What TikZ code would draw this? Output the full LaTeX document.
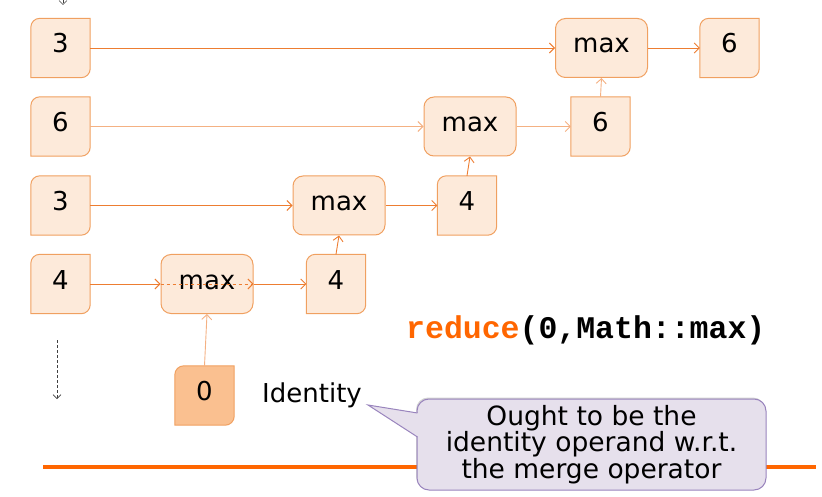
\documentclass[tikz,border=0pt]{standalone}
\usepackage{fontspec}
\setmainfont{DejaVu Sans}
\newfontfamily\codefont{Liberation Mono}
\usetikzlibrary{arrows.meta,shadows}
\pgfdeclarelayer{bg}
\pgfsetlayers{bg,main}
\definecolor{boxfill}{HTML}{FDEADA}
\definecolor{boxline}{HTML}{F0A060}
\definecolor{arr}{HTML}{ED7D31}
\definecolor{arrlight}{HTML}{F4B183}
\definecolor{zerofill}{HTML}{FAC090}
\definecolor{rulecol}{HTML}{FF6600}
\definecolor{callfill}{HTML}{E6E0EC}
\definecolor{callline}{HTML}{9984BD}
\tikzset{
  txt/.style={font=\fontsize{26}{26}\selectfont, text height=19pt, text depth=9pt, inner sep=0pt},
  valnode/.style={txt, minimum width=59pt, minimum height=59pt},
  maxnode/.style={txt, minimum width=92pt, minimum height=59pt, draw=boxline, line width=1pt, fill=boxfill, rounded corners=10pt},
  flow/.style={draw=arr, line width=0.9pt, -{Straight Barb[length=5pt,width=10pt,line width=0.9pt]}},
  flowlight/.style={flow, draw=arrlight},
  timeflow/.style={draw=black!75, line width=0.7pt, densely dashed, -{Straight Barb[length=4pt,width=8pt,line width=0.7pt]}},
}
% value box: rounded top-left (radius #3) and bottom-right corners
\newcommand\vframe[3]{%
  \draw[draw=boxline, fill=#2, line width=1pt]
    ([yshift=-#3]#1.north west) .. controls ([yshift=-0.45*#3]#1.north west) and ([xshift=0.45*#3]#1.north west) .. ([xshift=#3]#1.north west)
    -- (#1.north east) -- ([yshift=9pt]#1.south east)
    .. controls ([yshift=4pt]#1.south east) and ([xshift=-4pt]#1.south east) .. ([xshift=-9pt]#1.south east)
    -- (#1.south west) -- cycle;}
\begin{document}
\begin{tikzpicture}[x=1pt,y=-1pt]
\useasboundingbox (0,0) rectangle (822,497);
% value boxes
\node[valnode] (in1) at (60.5,48) {3};
\node[valnode] (in2) at (60.5,126.5) {6};
\node[valnode] (in3) at (60.5,205.5) {3};
\node[valnode] (in4) at (60.5,284) {4};
\node[valnode] (v1) at (729.5,48) {6};
\node[valnode] (v2) at (600.5,126.5) {6};
\node[valnode] (v3) at (467,205.5) {4};
\node[valnode] (v4) at (336,284) {4};
\node[valnode] (zero) at (204.5,395.5) {0};
\begin{pgfonlayer}{bg}
\foreach \n in {in1,in2,in3,in4,v1,v3,v4}{\vframe{\n}{boxfill}{9pt}}
\vframe{v2}{boxfill}{0.01pt}
\vframe{zero}{zerofill}{9pt}
\end{pgfonlayer}
% max boxes
\node[maxnode] (m1) at (601.5,48) {max};
\node[maxnode] (m2) at (470,126.5) {max};
\node[maxnode] (m3) at (339,205.5) {max};
\node[maxnode] (m4) at (207,284) {max};
% connectors
\draw[flow] (in1) -- (m1);
\draw[flow] (m1) -- (v1);
\draw[flowlight] (in2) -- (m2);
\draw[flowlight] (m2) -- (v2);
\draw[flowlight] (v2.north) -- (m1.south);
\draw[flow] (in3) -- (m3);
\draw[flow] (m3) -- (v3);
\draw[flow] (v3.north) -- (m2.south);
\draw[flow] (in4) -- (m4);
\draw[flow, dashed] (m4.west) -- (m4.east);
\draw[flow] (m4) -- (v4);
\draw[flow] (v4.north) -- (m3.south);
\draw[flowlight] (zero.north) -- (m4.south);
% time arrows
\coordinate (t1a) at (63,-20);
\coordinate (t1b) at (63,5);
\coordinate (t2a) at (57,340);
\coordinate (t2b) at (57,399);
\draw[timeflow] (t1a) -- (t1b);
\draw[timeflow] (t2a) -- (t2b);
% labels
\node[font=\fontsize{26}{26}\selectfont, anchor=base west, inner sep=0pt] (ident) at (262,402) {Identity};
\node[font=\codefont\bfseries\fontsize{31.5}{31.5}\selectfont, anchor=base west, inner sep=0pt] (code) at (406,338) {\textcolor{rulecol}{reduce}(0,Math::max)};
% rule
\draw[rulecol, line width=3.7pt] (43,466.7) -- (816,466.7);
% callout
\node[draw=callline, fill=callfill, line width=1pt, rounded corners=12pt, minimum width=349pt, minimum height=91pt, inner sep=0pt,
      drop shadow={shadow xshift=-1pt, shadow yshift=1.5pt, opacity=0.35}] (call) at (591.5,444.5) {};
\coordinate (tip) at (368,405);
\fill[callfill] (tip) -- (418,413) -- (418,437) -- cycle;
\draw[callline, line width=1pt] (417.5,413) -- (tip) -- (417.5,437);
\node[font=\fontsize{26.5}{25}\selectfont, align=center, inner sep=0pt] (calltext) at (call.center) {Ought to be the\\identity operand w.r.t.\\the merge operator};
\end{tikzpicture}
\end{document}
